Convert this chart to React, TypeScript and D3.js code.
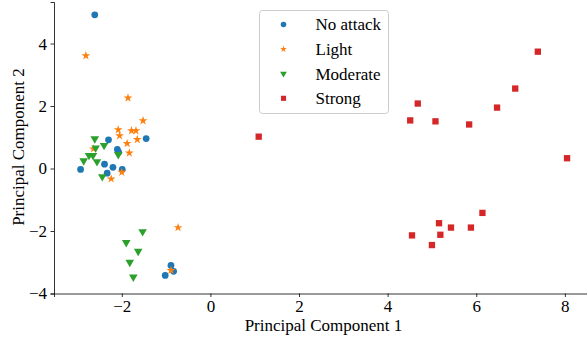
import * as d3 from 'd3';
import React, { useEffect, useRef } from 'react';

// Data (PC1, PC2)
const noAttackX = [-2.61, -2.30, -1.45, -2.10, -2.07, -2.39, -2.20, -1.99, -2.93, -2.33, -0.89, -0.83, -1.02];
const noAttackY = [4.92, 0.92, 0.96, 0.61, 0.52, 0.14, 0.04, -0.03, -0.03, -0.15, -3.10, -3.29, -3.42];

const lightX = [-2.81, -1.86, -1.52, -2.08, -1.78, -1.68, -2.05, -1.65, -1.88, -1.83, -2.64, -2.00, -2.24, -0.73, -0.89];
const lightY = [3.61, 2.26, 1.53, 1.24, 1.21, 1.21, 1.05, 0.93, 0.80, 0.50, 0.63, -0.12, -0.33, -1.89, -3.26];

const moderateX = [-2.61, -2.59, -2.40, -2.08, -2.74, -2.65, -2.86, -2.56, -2.44, -1.53, -1.90, -1.63, -1.82, -1.74];
const moderateY = [0.95, 0.66, 0.74, 0.45, 0.42, 0.42, 0.25, 0.22, -0.26, -2.02, -2.37, -2.65, -3.00, -3.47];

const strongX = [1.09, 4.68, 4.51, 5.08, 5.84, 6.47, 6.88, 7.39, 8.05, 6.14, 5.16, 5.43, 5.88, 4.55, 5.19, 5.00];
const strongY = [1.02, 2.08, 1.54, 1.51, 1.41, 1.95, 2.56, 3.74, 0.33, -1.42, -1.75, -1.89, -1.89, -2.14, -2.12, -2.45];

const seriesNames = ['No attack', 'Light', 'Moderate', 'Strong'];
const colors = ['#1f77b4', '#ff7f0e', '#2ca02c', '#d62728'];
const xTicks = [-2, 0, 2, 4, 6, 8];
const yTicks = [-4, -2, 0, 2, 4];

export default function App() {
  const svgRef = useRef<SVGSVGElement>(null);

  const width = 587;
  const height = 339;
  const font = '"Liberation Serif", "Times New Roman", serif';

  useEffect(() => {
    const svg = d3.select(svgRef.current);
    svg.selectAll('*').remove();

    // plot area
    const left = 54, right = 587, top = 2, bottom = 293.5;

    const x = d3.scaleLinear().domain([-3.53, 8.5]).range([left, right]);
    const y = d3.scaleLinear().domain([-4, 5.33]).range([bottom, top]);

    const fmt = (d: number) => (d < 0 ? '\u2212' + Math.abs(d) : String(d));

    // X axis
    const gx = svg.append('g')
      .attr('transform', 'translate(0,' + bottom + ')')
      .call(d3.axisBottom(x).tickValues(xTicks).tickFormat(fmt as any).tickSizeOuter(0).tickSize(3.5).tickPadding(3));
    gx.select('.domain').attr('stroke', '#000').attr('stroke-width', 0.8);
    gx.selectAll('.tick line').attr('stroke', '#000').attr('stroke-width', 0.8);
    gx.selectAll('.tick text')
      .style('font-family', font)
      .style('font-size', '17px')
      .attr('fill', '#000');

    // Y axis
    const gy = svg.append('g')
      .attr('transform', 'translate(' + left + ',0)')
      .call(d3.axisLeft(y).tickValues(yTicks).tickFormat(fmt as any).tickSizeOuter(0).tickSize(3.5).tickPadding(3.5));
    gy.select('.domain').attr('stroke', '#000').attr('stroke-width', 0.8);
    gy.selectAll('.tick line').attr('stroke', '#000').attr('stroke-width', 0.8);
    gy.selectAll('.tick text')
      .style('font-family', font)
      .style('font-size', '17px')
      .attr('fill', '#000');

    // Axis labels
    svg.append('text')
      .attr('x', 323.5)
      .attr('y', 331)
      .attr('text-anchor', 'middle')
      .style('font-family', font)
      .style('font-size', '17px')
      .text('Principal Component 1');

    svg.append('text')
      .attr('transform', 'translate(24,147) rotate(-90)')
      .attr('text-anchor', 'middle')
      .style('font-family', font)
      .style('font-size', '17px')
      .text('Principal Component 2');

    // marker shapes
    const symbols = [
      d3.symbol().type(d3.symbolCircle).size(36),
      d3.symbol().type(d3.symbolStar).size(24),
      d3.symbol().type(d3.symbolTriangle).size(32),
      d3.symbol().type(d3.symbolSquare).size(40),
    ];
    const rotations = [0, 0, 180, 0];

    const allX = [noAttackX, lightX, moderateX, strongX];
    const allY = [noAttackY, lightY, moderateY, strongY];

    allX.forEach((xs, i) => {
      const pts = xs.map((v, j) => [v, allY[i][j]]);
      svg.append('g')
        .selectAll('path')
        .data(pts)
        .enter()
        .append('path')
        .attr('d', symbols[i]() as string)
        .attr('transform', d => 'translate(' + x(d[0]) + ',' + y(d[1]) + ') rotate(' + rotations[i] + ')')
        .attr('fill', colors[i]);
    });

    // Legend
    const legend = svg.append('g');
    legend.append('rect')
      .attr('x', 259.5)
      .attr('y', 10.5)
      .attr('width', 129)
      .attr('height', 103)
      .attr('rx', 3)
      .attr('fill', '#fff')
      .attr('fill-opacity', 0.8)
      .attr('stroke', '#cccccc')
      .attr('stroke-width', 1);

    const legendSymbols = [
      d3.symbol().type(d3.symbolCircle).size(24),
      d3.symbol().type(d3.symbolStar).size(14),
      d3.symbol().type(d3.symbolTriangle).size(20),
      d3.symbol().type(d3.symbolSquare).size(26),
    ];
    seriesNames.forEach((name, i) => {
      const ry = 24.5 + i * 24.6;
      legend.append('path')
        .attr('d', legendSymbols[i]() as string)
        .attr('transform', 'translate(283.5,' + ry + ') rotate(' + rotations[i] + ')')
        .attr('fill', colors[i]);
      legend.append('text')
        .attr('x', 315.5)
        .attr('y', ry)
        .attr('dy', '0.35em')
        .style('font-family', font)
        .style('font-size', '17px')
        .text(name);
    });
  }, []);

  return (
    <svg
      ref={svgRef}
      width={width}
      height={height}
      style={{ position: 'absolute', left: 0, top: 0, background: '#fff' }}
    ></svg>
  );
}
